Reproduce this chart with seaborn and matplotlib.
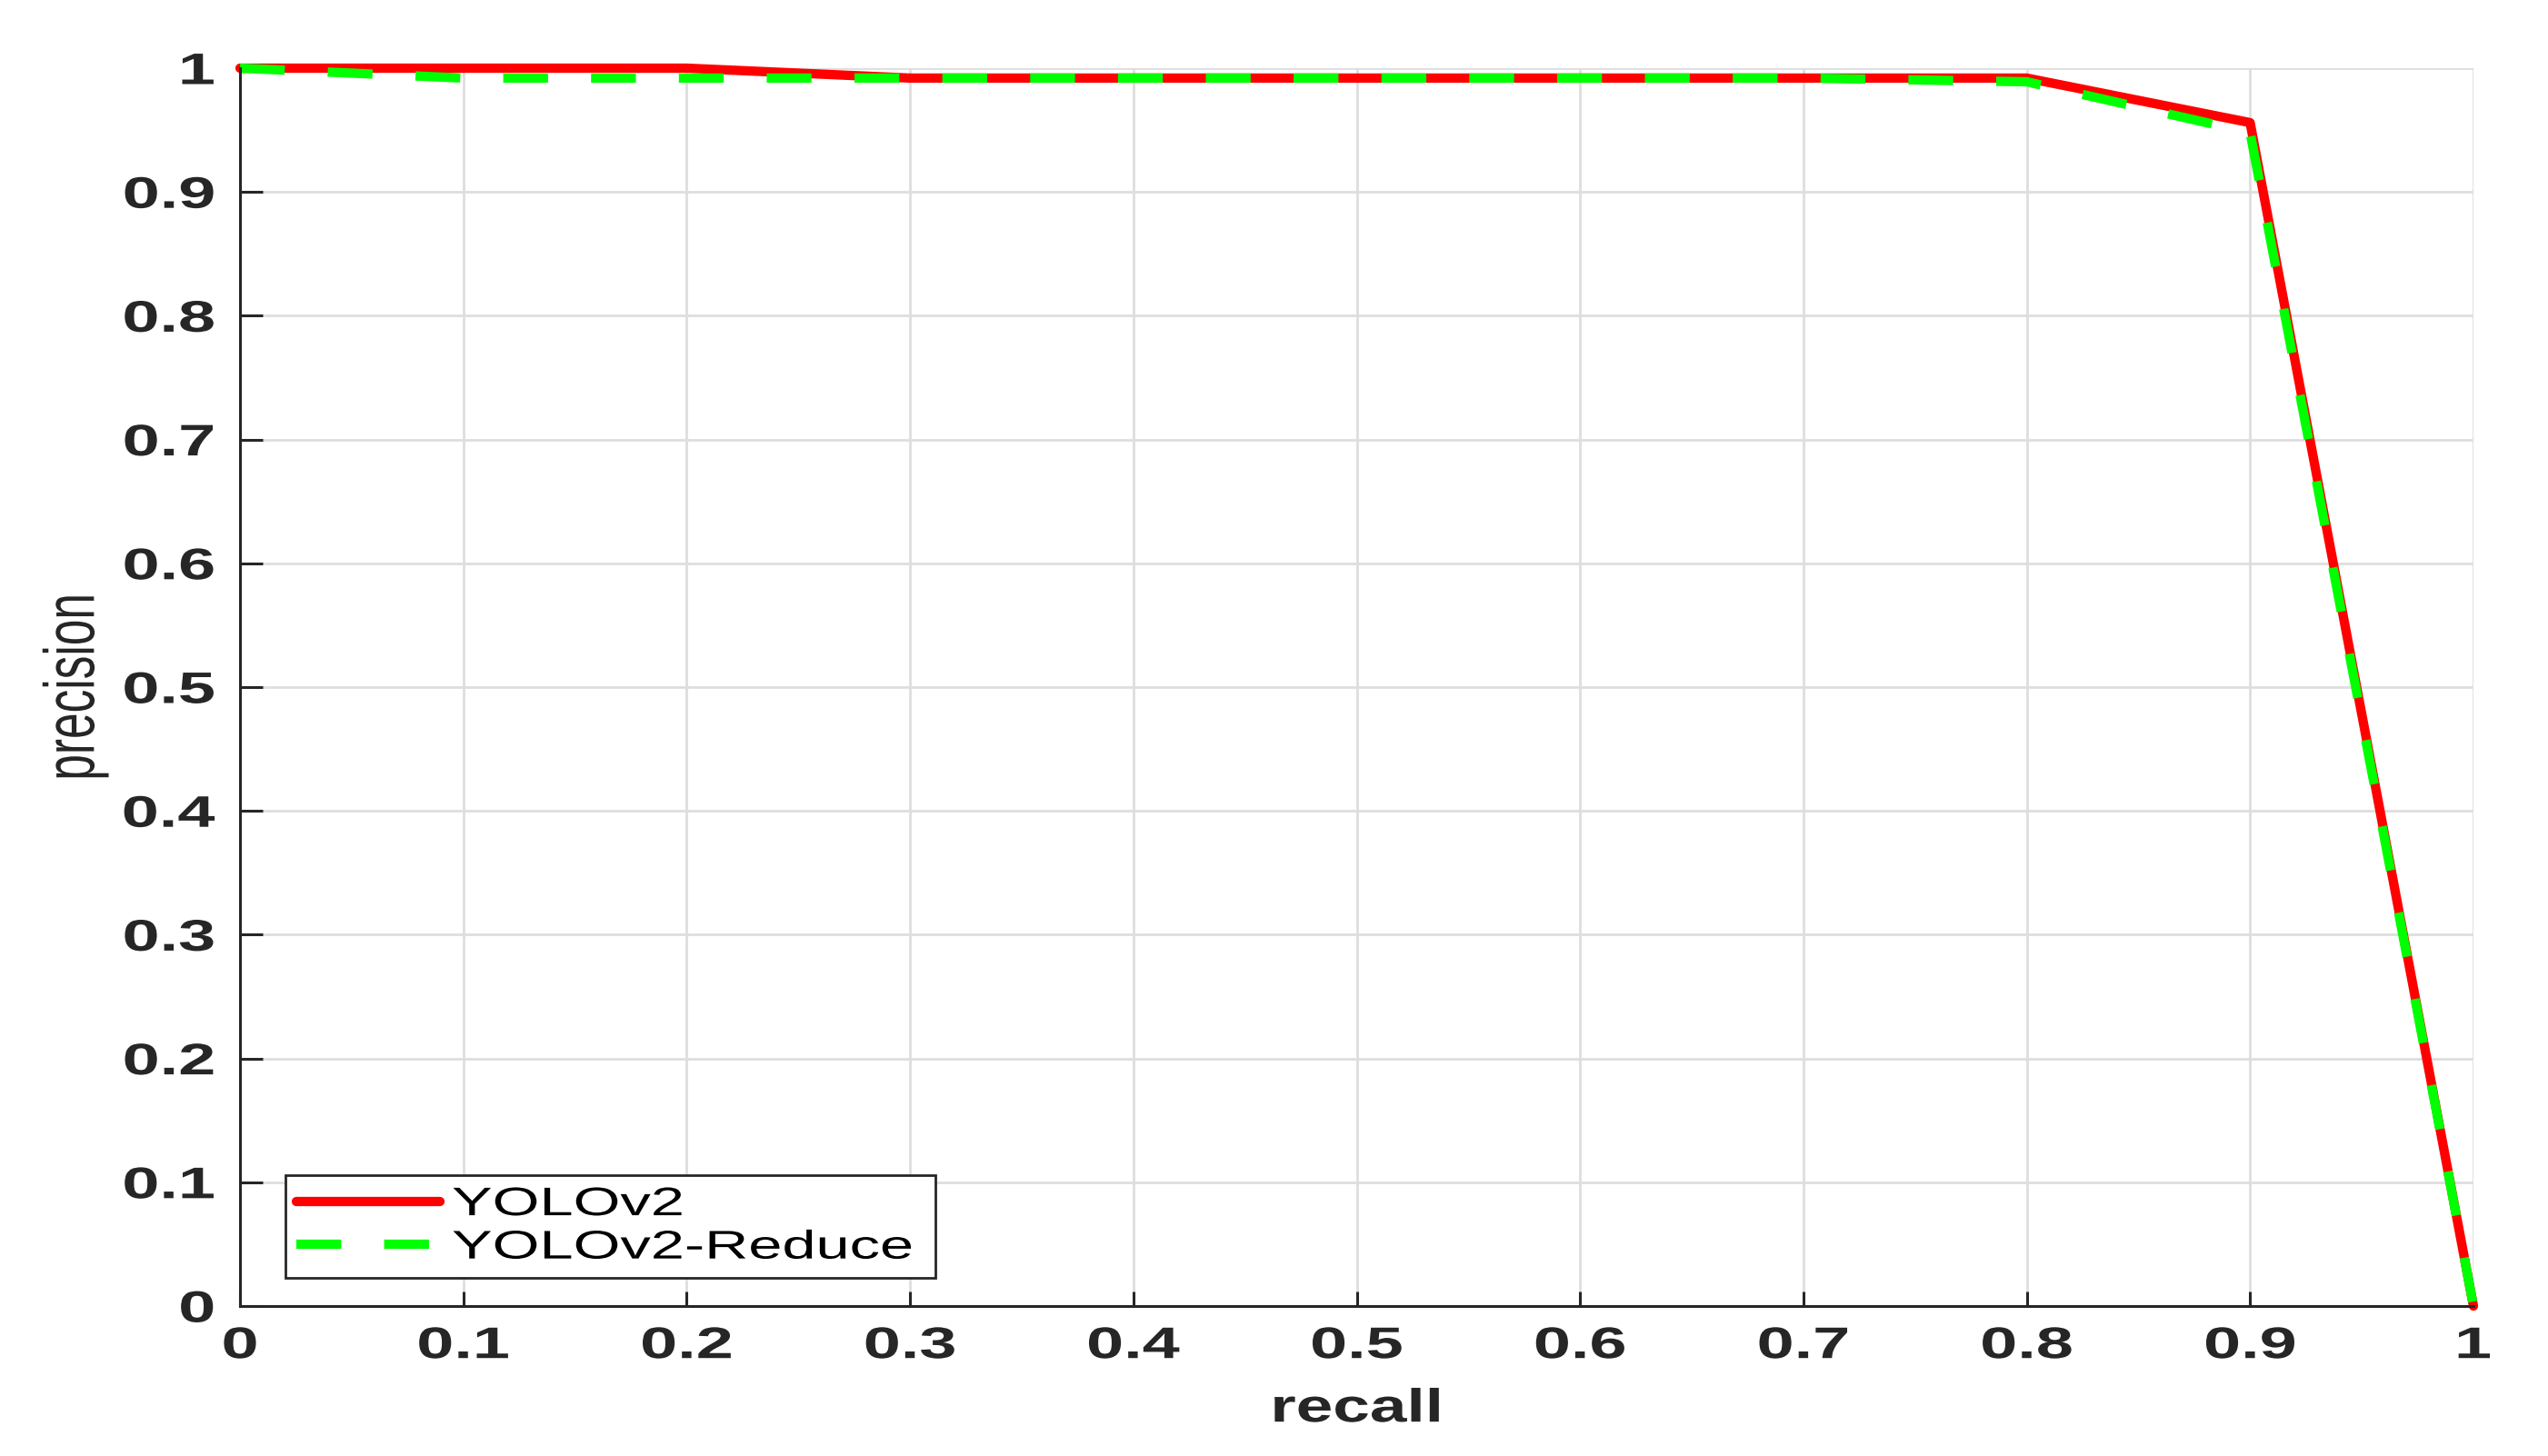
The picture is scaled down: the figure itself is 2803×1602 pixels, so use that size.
import matplotlib
matplotlib.use("Agg")
import matplotlib.pyplot as plt
import seaborn as sns
import pandas as pd
from matplotlib.patheffects import AbstractPathEffect
from matplotlib.transforms import Affine2D

# ---------------- data ----------------
recall = [0.0, 0.1, 0.2, 0.3, 0.4, 0.5, 0.6, 0.7, 0.8, 0.9, 1.0]
yolov2 = [1.0, 1.0, 1.0, 0.992, 0.992, 0.992, 0.992, 0.992, 0.992, 0.956, 0.0]
yolov2_reduce = [1.0, 0.992, 0.992, 0.992, 0.992, 0.992, 0.992, 0.992, 0.989, 0.948, 0.0]
series_names = ["YOLOv2", "YOLOv2-Reduce"]
x_ticks = [0.0, 0.1, 0.2, 0.3, 0.4, 0.5, 0.6, 0.7, 0.8, 0.9, 1.0]
x_tick_labels = ["0", "0.1", "0.2", "0.3", "0.4", "0.5", "0.6", "0.7", "0.8", "0.9", "1"]
y_ticks = [0.0, 0.1, 0.2, 0.3, 0.4, 0.5, 0.6, 0.7, 0.8, 0.9, 1.0]
y_tick_labels = ["0", "0.1", "0.2", "0.3", "0.4", "0.5", "0.6", "0.7", "0.8", "0.9", "1"]
x_label = "recall"
y_label = "precision"

df = pd.DataFrame({
    "recall": recall + recall,
    "precision": yolov2 + yolov2_reduce,
    "model": [series_names[0]] * len(recall) + [series_names[1]] * len(recall),
})


class HStretch(AbstractPathEffect):
    """Stretch rendered text horizontally (the reference image is stretched)."""

    def __init__(self, sx=1.5, anchor="center"):
        super().__init__()
        self.sx = sx
        self.anchor = anchor

    def draw_path(self, renderer, gc, tpath, affine, rgbFace=None):
        ext = tpath.transformed(affine).get_extents()
        if self.anchor == "center":
            ax0 = 0.5 * (ext.x0 + ext.x1)
        elif self.anchor == "right":
            ax0 = ext.x1
        else:
            ax0 = ext.x0
        t = affine + Affine2D().translate(-ax0, 0).scale(self.sx, 1.0).translate(ax0, 0)
        renderer.draw_path(gc, tpath, t, rgbFace)


sns.set_theme(style="white")
plt.rcParams["font.family"] = ["Liberation Sans", "DejaVu Sans"]

DPI = 200
W, H = 2803, 1602
fig = plt.figure(figsize=(W / DPI, H / DPI), dpi=DPI)
L, R, T, B = 264, 2721, 75, 1437
ax = fig.add_axes([L / W, 1 - B / H, (R - L) / W, (B - T) / H])

dark = "#262626"
STRETCH = 1.52
LW = 3.7

sns.lineplot(
    data=df, x="recall", y="precision", hue="model", style="model",
    palette={series_names[0]: "#ff0000", series_names[1]: "#00ff00"},
    dashes={series_names[0]: "", series_names[1]: (4.8, 4.6)},
    linewidth=LW, estimator=None, sort=False, ax=ax,
)
for ln in ax.lines:
    ln.set_clip_on(False)

ax.set_xlim(0, 1)
ax.set_ylim(0, 1)
ax.set_xticks(x_ticks, x_tick_labels)
ax.set_yticks(y_ticks, y_tick_labels)

ax.grid(True, color="#dedede", linewidth=1.0)
ax.set_axisbelow(True)

for s in ["top", "right"]:
    ax.spines[s].set_visible(False)
for s in ["left", "bottom"]:
    ax.spines[s].set_color(dark)
    ax.spines[s].set_linewidth(1.1)

ax.tick_params(axis="x", direction="in", length=5.8, width=1.1, color=dark,
               labelsize=17.5, labelcolor=dark, pad=8.0, bottom=True, top=False)
ax.tick_params(axis="y", direction="in", length=9, width=1.1, color=dark,
               labelsize=17.5, labelcolor=dark, pad=10, left=True, right=False)
for lab in ax.get_xticklabels():
    lab.set_fontweight("bold")
    lab.set_path_effects([HStretch(STRETCH, "center")])
for lab in ax.get_yticklabels():
    lab.set_fontweight("bold")
    lab.set_path_effects([HStretch(STRETCH, "right")])

ax.set_xlabel(x_label, fontsize=18.5, color=dark, fontweight="bold")
ax.set_ylabel(y_label, fontsize=18.5, color=dark)
ax.xaxis.set_label_coords(0.5, -0.0655)
ax.xaxis.label.set_va("top")
ax.yaxis.set_label_coords(-0.0737, 0.5)
ax.yaxis.label.set_va("center")
ax.xaxis.label.set_path_effects([HStretch(1.42, "center")])
ax.yaxis.label.set_path_effects([HStretch(STRETCH, "center")])

handles, labels = ax.get_legend_handles_labels()
leg = ax.legend(
    handles, labels, loc="lower left",
    bbox_to_anchor=(0.0204, 0.0228, 0.291, 0.087), mode="expand",
    borderaxespad=0, fancybox=False, framealpha=1, edgecolor=dark,
    fontsize=15.8, handlelength=3.6, handletextpad=0.3,
    borderpad=0.28, labelspacing=0.15,
)
leg.get_frame().set_linewidth(1.0)
for ln in leg.get_lines():
    ln.set_linewidth(LW)
for t in leg.get_texts():
    t.set_color("black")
    t.set_path_effects([HStretch(STRETCH, "left")])

fig.savefig("out.png", dpi=DPI)
